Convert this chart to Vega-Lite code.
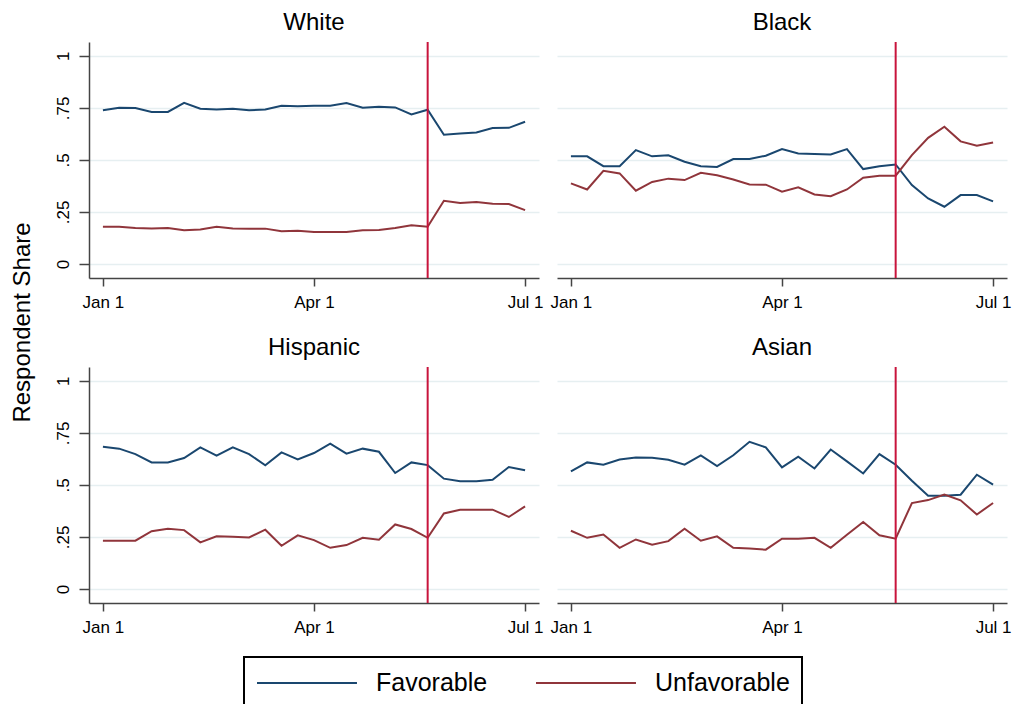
{
  "$schema": "https://vega.github.io/schema/vega-lite/v6.json",
  "background": "white",
  "padding": {"left": 10, "top": 11, "right": 0, "bottom": 0},
  "config": {
    "font": "Liberation Sans",
    "view": {"stroke": null},
    "axis": {
      "labelFont": "Liberation Sans",
      "labelFontSize": 17,
      "labelColor": "black",
      "domainColor": "#444444",
      "tickColor": "#444444",
      "gridColor": "#e6eff1",
      "gridWidth": 1.5,
      "domainWidth": 1.5,
      "tickWidth": 1.5,
      "titleFontWeight": "normal",
      "titleFont": "Liberation Sans",
      "titleColor": "black"
    },
    "title": {"fontSize": 24, "fontWeight": "normal", "font": "Liberation Sans", "color": "black", "offset": 6, "baseline": "alphabetic"},
    "legend": {
      "symbolType": "M-1,0H6.69",
      "symbolSize": 676,
      "symbolStrokeWidth": 2,
      "labelFont": "Liberation Sans",
      "labelFontSize": 25,
      "labelColor": "black",
      "labelOffset": 92,
      "columnPadding": 44,
      "padding": 12,
      "strokeColor": "black",
      "strokeWidth": 2
    }
  },
  "datasets": {
    "events": [{"date": "2020/05/20"}],
    "series": [
      {"g": "White", "d": "2020/01/01", "Favorable": 0.738, "Unfavorable": 0.179},
      {"g": "White", "d": "2020/01/08", "Favorable": 0.750, "Unfavorable": 0.179},
      {"g": "White", "d": "2020/01/15", "Favorable": 0.749, "Unfavorable": 0.173},
      {"g": "White", "d": "2020/01/22", "Favorable": 0.730, "Unfavorable": 0.171},
      {"g": "White", "d": "2020/01/29", "Favorable": 0.730, "Unfavorable": 0.173},
      {"g": "White", "d": "2020/02/05", "Favorable": 0.774, "Unfavorable": 0.162},
      {"g": "White", "d": "2020/02/12", "Favorable": 0.746, "Unfavorable": 0.166},
      {"g": "White", "d": "2020/02/19", "Favorable": 0.742, "Unfavorable": 0.179},
      {"g": "White", "d": "2020/02/26", "Favorable": 0.746, "Unfavorable": 0.171},
      {"g": "White", "d": "2020/03/04", "Favorable": 0.738, "Unfavorable": 0.170},
      {"g": "White", "d": "2020/03/11", "Favorable": 0.742, "Unfavorable": 0.170},
      {"g": "White", "d": "2020/03/18", "Favorable": 0.760, "Unfavorable": 0.157},
      {"g": "White", "d": "2020/03/25", "Favorable": 0.757, "Unfavorable": 0.160},
      {"g": "White", "d": "2020/04/01", "Favorable": 0.760, "Unfavorable": 0.154},
      {"g": "White", "d": "2020/04/08", "Favorable": 0.760, "Unfavorable": 0.154},
      {"g": "White", "d": "2020/04/15", "Favorable": 0.773, "Unfavorable": 0.154},
      {"g": "White", "d": "2020/04/22", "Favorable": 0.750, "Unfavorable": 0.162},
      {"g": "White", "d": "2020/04/29", "Favorable": 0.755, "Unfavorable": 0.163},
      {"g": "White", "d": "2020/05/06", "Favorable": 0.752, "Unfavorable": 0.173},
      {"g": "White", "d": "2020/05/13", "Favorable": 0.718, "Unfavorable": 0.186},
      {"g": "White", "d": "2020/05/20", "Favorable": 0.741, "Unfavorable": 0.179},
      {"g": "White", "d": "2020/05/27", "Favorable": 0.621, "Unfavorable": 0.304},
      {"g": "White", "d": "2020/06/03", "Favorable": 0.627, "Unfavorable": 0.293},
      {"g": "White", "d": "2020/06/10", "Favorable": 0.632, "Unfavorable": 0.298},
      {"g": "White", "d": "2020/06/17", "Favorable": 0.653, "Unfavorable": 0.290},
      {"g": "White", "d": "2020/06/24", "Favorable": 0.654, "Unfavorable": 0.288},
      {"g": "White", "d": "2020/07/01", "Favorable": 0.683, "Unfavorable": 0.259},
      {"g": "Black", "d": "2020/01/01", "Favorable": 0.517, "Unfavorable": 0.387},
      {"g": "Black", "d": "2020/01/08", "Favorable": 0.517, "Unfavorable": 0.358},
      {"g": "Black", "d": "2020/01/15", "Favorable": 0.470, "Unfavorable": 0.448},
      {"g": "Black", "d": "2020/01/22", "Favorable": 0.470, "Unfavorable": 0.435},
      {"g": "Black", "d": "2020/01/29", "Favorable": 0.547, "Unfavorable": 0.352},
      {"g": "Black", "d": "2020/02/05", "Favorable": 0.517, "Unfavorable": 0.394},
      {"g": "Black", "d": "2020/02/12", "Favorable": 0.522, "Unfavorable": 0.410},
      {"g": "Black", "d": "2020/02/19", "Favorable": 0.491, "Unfavorable": 0.403},
      {"g": "Black", "d": "2020/02/26", "Favorable": 0.470, "Unfavorable": 0.438},
      {"g": "Black", "d": "2020/03/04", "Favorable": 0.466, "Unfavorable": 0.426},
      {"g": "Black", "d": "2020/03/11", "Favorable": 0.504, "Unfavorable": 0.406},
      {"g": "Black", "d": "2020/03/18", "Favorable": 0.504, "Unfavorable": 0.382},
      {"g": "Black", "d": "2020/03/25", "Favorable": 0.520, "Unfavorable": 0.381},
      {"g": "Black", "d": "2020/04/01", "Favorable": 0.552, "Unfavorable": 0.347},
      {"g": "Black", "d": "2020/04/08", "Favorable": 0.531, "Unfavorable": 0.368},
      {"g": "Black", "d": "2020/04/15", "Favorable": 0.528, "Unfavorable": 0.334},
      {"g": "Black", "d": "2020/04/22", "Favorable": 0.526, "Unfavorable": 0.326},
      {"g": "Black", "d": "2020/04/29", "Favorable": 0.552, "Unfavorable": 0.358},
      {"g": "Black", "d": "2020/05/06", "Favorable": 0.456, "Unfavorable": 0.414},
      {"g": "Black", "d": "2020/05/13", "Favorable": 0.469, "Unfavorable": 0.424},
      {"g": "Black", "d": "2020/05/20", "Favorable": 0.478, "Unfavorable": 0.424},
      {"g": "Black", "d": "2020/05/27", "Favorable": 0.379, "Unfavorable": 0.523},
      {"g": "Black", "d": "2020/06/03", "Favorable": 0.315, "Unfavorable": 0.606},
      {"g": "Black", "d": "2020/06/10", "Favorable": 0.275, "Unfavorable": 0.659},
      {"g": "Black", "d": "2020/06/17", "Favorable": 0.331, "Unfavorable": 0.589},
      {"g": "Black", "d": "2020/06/24", "Favorable": 0.331, "Unfavorable": 0.568},
      {"g": "Black", "d": "2020/07/01", "Favorable": 0.301, "Unfavorable": 0.584},
      {"g": "Hispanic", "d": "2020/01/01", "Favorable": 0.683, "Unfavorable": 0.232},
      {"g": "Hispanic", "d": "2020/01/08", "Favorable": 0.674, "Unfavorable": 0.232},
      {"g": "Hispanic", "d": "2020/01/15", "Favorable": 0.648, "Unfavorable": 0.232},
      {"g": "Hispanic", "d": "2020/01/22", "Favorable": 0.608, "Unfavorable": 0.278},
      {"g": "Hispanic", "d": "2020/01/29", "Favorable": 0.608, "Unfavorable": 0.290},
      {"g": "Hispanic", "d": "2020/02/05", "Favorable": 0.629, "Unfavorable": 0.283},
      {"g": "Hispanic", "d": "2020/02/12", "Favorable": 0.680, "Unfavorable": 0.224},
      {"g": "Hispanic", "d": "2020/02/19", "Favorable": 0.640, "Unfavorable": 0.253},
      {"g": "Hispanic", "d": "2020/02/26", "Favorable": 0.680, "Unfavorable": 0.251},
      {"g": "Hispanic", "d": "2020/03/04", "Favorable": 0.648, "Unfavorable": 0.248},
      {"g": "Hispanic", "d": "2020/03/11", "Favorable": 0.594, "Unfavorable": 0.285},
      {"g": "Hispanic", "d": "2020/03/18", "Favorable": 0.656, "Unfavorable": 0.208},
      {"g": "Hispanic", "d": "2020/03/25", "Favorable": 0.622, "Unfavorable": 0.258},
      {"g": "Hispanic", "d": "2020/04/01", "Favorable": 0.653, "Unfavorable": 0.235},
      {"g": "Hispanic", "d": "2020/04/08", "Favorable": 0.698, "Unfavorable": 0.198},
      {"g": "Hispanic", "d": "2020/04/15", "Favorable": 0.650, "Unfavorable": 0.211},
      {"g": "Hispanic", "d": "2020/04/22", "Favorable": 0.674, "Unfavorable": 0.246},
      {"g": "Hispanic", "d": "2020/04/29", "Favorable": 0.659, "Unfavorable": 0.237},
      {"g": "Hispanic", "d": "2020/05/06", "Favorable": 0.557, "Unfavorable": 0.310},
      {"g": "Hispanic", "d": "2020/05/13", "Favorable": 0.608, "Unfavorable": 0.288},
      {"g": "Hispanic", "d": "2020/05/20", "Favorable": 0.595, "Unfavorable": 0.246},
      {"g": "Hispanic", "d": "2020/05/27", "Favorable": 0.530, "Unfavorable": 0.363},
      {"g": "Hispanic", "d": "2020/06/03", "Favorable": 0.518, "Unfavorable": 0.381},
      {"g": "Hispanic", "d": "2020/06/10", "Favorable": 0.518, "Unfavorable": 0.381},
      {"g": "Hispanic", "d": "2020/06/17", "Favorable": 0.525, "Unfavorable": 0.381},
      {"g": "Hispanic", "d": "2020/06/24", "Favorable": 0.586, "Unfavorable": 0.346},
      {"g": "Hispanic", "d": "2020/07/01", "Favorable": 0.570, "Unfavorable": 0.397},
      {"g": "Asian", "d": "2020/01/01", "Favorable": 0.565, "Unfavorable": 0.280},
      {"g": "Asian", "d": "2020/01/08", "Favorable": 0.608, "Unfavorable": 0.246},
      {"g": "Asian", "d": "2020/01/15", "Favorable": 0.597, "Unfavorable": 0.262},
      {"g": "Asian", "d": "2020/01/22", "Favorable": 0.622, "Unfavorable": 0.198},
      {"g": "Asian", "d": "2020/01/29", "Favorable": 0.632, "Unfavorable": 0.238},
      {"g": "Asian", "d": "2020/02/05", "Favorable": 0.630, "Unfavorable": 0.213},
      {"g": "Asian", "d": "2020/02/12", "Favorable": 0.621, "Unfavorable": 0.230},
      {"g": "Asian", "d": "2020/02/19", "Favorable": 0.597, "Unfavorable": 0.290},
      {"g": "Asian", "d": "2020/02/26", "Favorable": 0.642, "Unfavorable": 0.232},
      {"g": "Asian", "d": "2020/03/04", "Favorable": 0.590, "Unfavorable": 0.253},
      {"g": "Asian", "d": "2020/03/11", "Favorable": 0.642, "Unfavorable": 0.198},
      {"g": "Asian", "d": "2020/03/18", "Favorable": 0.707, "Unfavorable": 0.195},
      {"g": "Asian", "d": "2020/03/25", "Favorable": 0.680, "Unfavorable": 0.189},
      {"g": "Asian", "d": "2020/04/01", "Favorable": 0.584, "Unfavorable": 0.242},
      {"g": "Asian", "d": "2020/04/08", "Favorable": 0.635, "Unfavorable": 0.242},
      {"g": "Asian", "d": "2020/04/15", "Favorable": 0.579, "Unfavorable": 0.246},
      {"g": "Asian", "d": "2020/04/22", "Favorable": 0.670, "Unfavorable": 0.198},
      {"g": "Asian", "d": "2020/04/29", "Favorable": 0.613, "Unfavorable": 0.261},
      {"g": "Asian", "d": "2020/05/06", "Favorable": 0.555, "Unfavorable": 0.322},
      {"g": "Asian", "d": "2020/05/13", "Favorable": 0.648, "Unfavorable": 0.258},
      {"g": "Asian", "d": "2020/05/20", "Favorable": 0.597, "Unfavorable": 0.242},
      {"g": "Asian", "d": "2020/05/27", "Favorable": 0.520, "Unfavorable": 0.413},
      {"g": "Asian", "d": "2020/06/03", "Favorable": 0.448, "Unfavorable": 0.427},
      {"g": "Asian", "d": "2020/06/10", "Favorable": 0.448, "Unfavorable": 0.454},
      {"g": "Asian", "d": "2020/06/17", "Favorable": 0.453, "Unfavorable": 0.426},
      {"g": "Asian", "d": "2020/06/24", "Favorable": 0.549, "Unfavorable": 0.358},
      {"g": "Asian", "d": "2020/07/01", "Favorable": 0.501, "Unfavorable": 0.413}
    ]
  },
  "resolve": {"scale": {"color": "shared"}},
  "bounds": "flush",
  "columns": 2,
  "spacing": {"row": 89, "column": 18},
  "concat": [
    {
      "width": 450, "height": 236,
      "title": "White",
      "layer": [
        {
          "data": {"name": "series"},
          "transform": [{"filter": "datum.g === 'White'"}, {"fold": ["Favorable", "Unfavorable"], "as": ["type", "share"]}],
          "mark": {"type": "line", "strokeWidth": 2},
          "encoding": {
            "x": {"field": "d", "type": "temporal", "scale": {"domain": [{"year": 2019, "month": 12, "date": 26}, {"year": 2020, "month": 7, "date": 7}]},
                  "axis": {"values": [{"year": 2020, "month": 1, "date": 1}, {"year": 2020, "month": 4, "date": 1}, {"year": 2020, "month": 7, "date": 1}], "format": "%b %-d", "title": null, "grid": false, "tickSize": 8, "labelPadding": 8, "labelFlush": false}},
            "y": {"field": "share", "type": "quantitative", "scale": {"domain": [-0.067, 1.066], "nice": false, "zero": false},
                  "axis": {"values": [0, 0.25, 0.5, 0.75, 1], "labelExpr": "datum.value == 0 ? '0' : datum.value == 1 ? '1' : substring(format(datum.value, '.2~f'), 1)", "labelAngle": 270, "labelAlign": "center", "labelBaseline": "bottom", "tickSize": 10, "labelPadding": 7, "grid": true,
                           "title": "Respondent Share", "titleFontSize": 24, "titleAngle": 270, "titleX": -67, "titleY": 280, "titleAlign": "center", "titleBaseline": "middle"}},
            "color": {"field": "type", "type": "nominal", "scale": {"domain": ["Favorable", "Unfavorable"], "range": ["#1a476f", "#90353b"]},
                      "legend": {"orient": "none", "legendX": 155, "legendY": 615, "direction": "horizontal", "title": null}}
          }
        },
        {
          "data": {"name": "events"},
          "mark": {"type": "rule", "color": "#c8143c", "strokeWidth": 2},
          "encoding": {"x": {"field": "date", "type": "temporal"}}
        }
      ]
    },
    {
      "width": 450, "height": 236,
      "title": "Black",
      "layer": [
        {
          "data": {"name": "series"},
          "transform": [{"filter": "datum.g === 'Black'"}, {"fold": ["Favorable", "Unfavorable"], "as": ["type", "share"]}],
          "mark": {"type": "line", "strokeWidth": 2},
          "encoding": {
            "x": {"field": "d", "type": "temporal", "scale": {"domain": [{"year": 2019, "month": 12, "date": 26}, {"year": 2020, "month": 7, "date": 7}]},
                  "axis": {"values": [{"year": 2020, "month": 1, "date": 1}, {"year": 2020, "month": 4, "date": 1}, {"year": 2020, "month": 7, "date": 1}], "format": "%b %-d", "title": null, "grid": false, "tickSize": 8, "labelPadding": 8, "labelFlush": false}},
            "y": {"field": "share", "type": "quantitative", "scale": {"domain": [-0.067, 1.066], "nice": false, "zero": false},
                  "axis": {"values": [0, 0.25, 0.5, 0.75, 1], "labels": false, "ticks": false, "domain": false, "grid": true, "title": null}},
            "color": {"field": "type", "type": "nominal", "scale": {"domain": ["Favorable", "Unfavorable"], "range": ["#1a476f", "#90353b"]},
                      "legend": {"orient": "none", "legendX": 155, "legendY": 615, "direction": "horizontal", "title": null}}
          }
        },
        {
          "data": {"name": "events"},
          "mark": {"type": "rule", "color": "#c8143c", "strokeWidth": 2},
          "encoding": {"x": {"field": "date", "type": "temporal"}}
        }
      ]
    },
    {
      "width": 450, "height": 236,
      "title": "Hispanic",
      "layer": [
        {
          "data": {"name": "series"},
          "transform": [{"filter": "datum.g === 'Hispanic'"}, {"fold": ["Favorable", "Unfavorable"], "as": ["type", "share"]}],
          "mark": {"type": "line", "strokeWidth": 2},
          "encoding": {
            "x": {"field": "d", "type": "temporal", "scale": {"domain": [{"year": 2019, "month": 12, "date": 26}, {"year": 2020, "month": 7, "date": 7}]},
                  "axis": {"values": [{"year": 2020, "month": 1, "date": 1}, {"year": 2020, "month": 4, "date": 1}, {"year": 2020, "month": 7, "date": 1}], "format": "%b %-d", "title": null, "grid": false, "tickSize": 8, "labelPadding": 8, "labelFlush": false}},
            "y": {"field": "share", "type": "quantitative", "scale": {"domain": [-0.067, 1.066], "nice": false, "zero": false},
                  "axis": {"values": [0, 0.25, 0.5, 0.75, 1], "labelExpr": "datum.value == 0 ? '0' : datum.value == 1 ? '1' : substring(format(datum.value, '.2~f'), 1)", "labelAngle": 270, "labelAlign": "center", "labelBaseline": "bottom", "tickSize": 10, "labelPadding": 7, "grid": true, "title": null}},
            "color": {"field": "type", "type": "nominal", "scale": {"domain": ["Favorable", "Unfavorable"], "range": ["#1a476f", "#90353b"]},
                      "legend": {"orient": "none", "legendX": 155, "legendY": 615, "direction": "horizontal", "title": null}}
          }
        },
        {
          "data": {"name": "events"},
          "mark": {"type": "rule", "color": "#c8143c", "strokeWidth": 2},
          "encoding": {"x": {"field": "date", "type": "temporal"}}
        }
      ]
    },
    {
      "width": 450, "height": 236,
      "title": "Asian",
      "layer": [
        {
          "data": {"name": "series"},
          "transform": [{"filter": "datum.g === 'Asian'"}, {"fold": ["Favorable", "Unfavorable"], "as": ["type", "share"]}],
          "mark": {"type": "line", "strokeWidth": 2},
          "encoding": {
            "x": {"field": "d", "type": "temporal", "scale": {"domain": [{"year": 2019, "month": 12, "date": 26}, {"year": 2020, "month": 7, "date": 7}]},
                  "axis": {"values": [{"year": 2020, "month": 1, "date": 1}, {"year": 2020, "month": 4, "date": 1}, {"year": 2020, "month": 7, "date": 1}], "format": "%b %-d", "title": null, "grid": false, "tickSize": 8, "labelPadding": 8, "labelFlush": false}},
            "y": {"field": "share", "type": "quantitative", "scale": {"domain": [-0.067, 1.066], "nice": false, "zero": false},
                  "axis": {"values": [0, 0.25, 0.5, 0.75, 1], "labels": false, "ticks": false, "domain": false, "grid": true, "title": null}},
            "color": {"field": "type", "type": "nominal", "scale": {"domain": ["Favorable", "Unfavorable"], "range": ["#1a476f", "#90353b"]},
                      "legend": {"orient": "none", "legendX": 155, "legendY": 615, "direction": "horizontal", "title": null}}
          }
        },
        {
          "data": {"name": "events"},
          "mark": {"type": "rule", "color": "#c8143c", "strokeWidth": 2},
          "encoding": {"x": {"field": "date", "type": "temporal"}}
        }
      ]
    }
  ]
}
